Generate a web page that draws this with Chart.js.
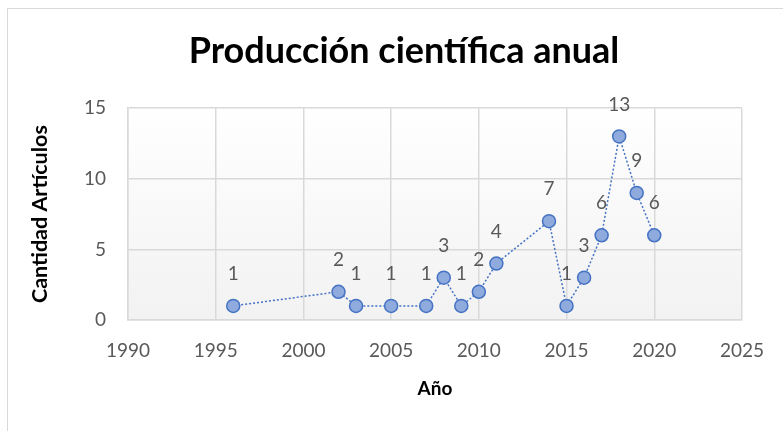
<!DOCTYPE html>
<html lang="es">
<head>
  <meta charset="UTF-8">
  <title>Producción científica anual</title>
  <script src="https://cdnjs.cloudflare.com/ajax/libs/Chart.js/4.3.0/chart.umd.js"></script>
  <style>
    body { margin: 0; background: #fff; }
    .wrap { position: relative; width: 783px; height: 431px; }
    .frame {
      position: absolute; left: 7px; top: 8px; width: 800px; height: 450px;
      border: 1px solid #d9d9d9; pointer-events: none;
    }
  </style>
</head>
<body>
  <div class="wrap">
    <div class="frame"></div>
    <canvas id="chart" width="783" height="431"></canvas>
  </div>

  <script>
    const years = [1996, 2002, 2003, 2005, 2007, 2008, 2009, 2010, 2011, 2014, 2015, 2016, 2017, 2018, 2019, 2020];
    const articles = [1, 2, 1, 1, 1, 3, 1, 2, 4, 7, 1, 3, 6, 13, 9, 6];

    const grey = '#595959';
    const gridColor = '#d9d9d9';

    // light gradient behind the plot area, like the Excel original
    const plotBg = {
      id: 'plotBg',
      beforeDraw(chart) {
        const { ctx, chartArea: a } = chart;
        const g = ctx.createLinearGradient(0, a.top, 0, a.bottom);
        g.addColorStop(0, '#ffffff');
        g.addColorStop(1, '#f2f2f2');
        ctx.save();
        ctx.fillStyle = g;
        ctx.fillRect(a.left, a.top, a.right - a.left, a.bottom - a.top);
        ctx.restore();
      }
    };

    // value labels above each point
    const valueLabels = {
      id: 'valueLabels',
      afterDatasetsDraw(chart) {
        const { ctx } = chart;
        const meta = chart.getDatasetMeta(0);
        ctx.save();
        ctx.font = '19px Lato';
        ctx.fillStyle = grey;
        ctx.textAlign = 'center';
        ctx.textBaseline = 'middle';
        meta.data.forEach((pt, i) => {
          ctx.fillText(articles[i], pt.x, pt.y - 32);
        });
        ctx.restore();
      }
    };

    new Chart(document.getElementById('chart'), {
      type: 'scatter',
      data: {
        datasets: [{
          data: years.map((y, i) => ({ x: y, y: articles[i] })),
          showLine: true,
          borderColor: '#4472c4',
          borderWidth: 1.5,
          borderDash: [2, 2],
          pointRadius: 6.5,
          pointHoverRadius: 6.5,
          pointBackgroundColor: '#8faadc',
          pointBorderColor: '#4472c4',
          pointBorderWidth: 1.5
        }]
      },
      options: {
        responsive: false,
        animation: false,
        layout: { padding: { left: 25, right: 0, top: 0, bottom: 0 } },
        plugins: {
          legend: { display: false },
          tooltip: { enabled: false },
          title: {
            display: true,
            text: 'Producción científica anual',
            color: '#000',
            font: { family: 'Lato', size: 36, weight: 'bold' },
            padding: { top: 30, bottom: 35 }
          }
        },
        scales: {
          x: {
            type: 'linear',
            min: 1990,
            max: 2025,
            ticks: {
              stepSize: 5,
              color: grey,
              font: { family: 'Lato', size: 19 },
              padding: 19,
              callback: v => String(v)
            },
            grid: { color: gridColor, lineWidth: 1.5, drawTicks: false },
            border: { color: gridColor, width: 1.5 },
            title: {
              display: true,
              text: 'Año',
              color: '#000',
              font: { family: 'Lato', size: 19, weight: 'bold' },
              padding: { top: 4, bottom: 31 }
            },
            afterFit(scale) { scale.height = 111; }
          },
          y: {
            min: 0,
            max: 15,
            ticks: {
              stepSize: 5,
              color: grey,
              font: { family: 'Lato', size: 19 },
              padding: 22
            },
            grid: { color: gridColor, lineWidth: 1.5, drawTicks: false },
            border: { color: gridColor, width: 1.5 },
            title: {
              display: true,
              text: 'Cantidad Artículos',
              color: '#000',
              font: { family: 'Lato', size: 21.5, weight: 'bold' },
              padding: { top: 2, bottom: 0 }
            },
            afterFit(scale) { scale.width = 103; }
          },
          // empty spacer on the right, keeps the plot edge at 2025 where the original has it
          spacer: {
            type: 'linear',
            position: 'right',
            min: 0,
            max: 15,
            ticks: { display: false },
            grid: { display: false, drawTicks: false },
            border: { display: false },
            afterFit(scale) { scale.width = 38; }
          }
        }
      },
      plugins: [plotBg, valueLabels]
    });
  </script>
</body>
</html>
